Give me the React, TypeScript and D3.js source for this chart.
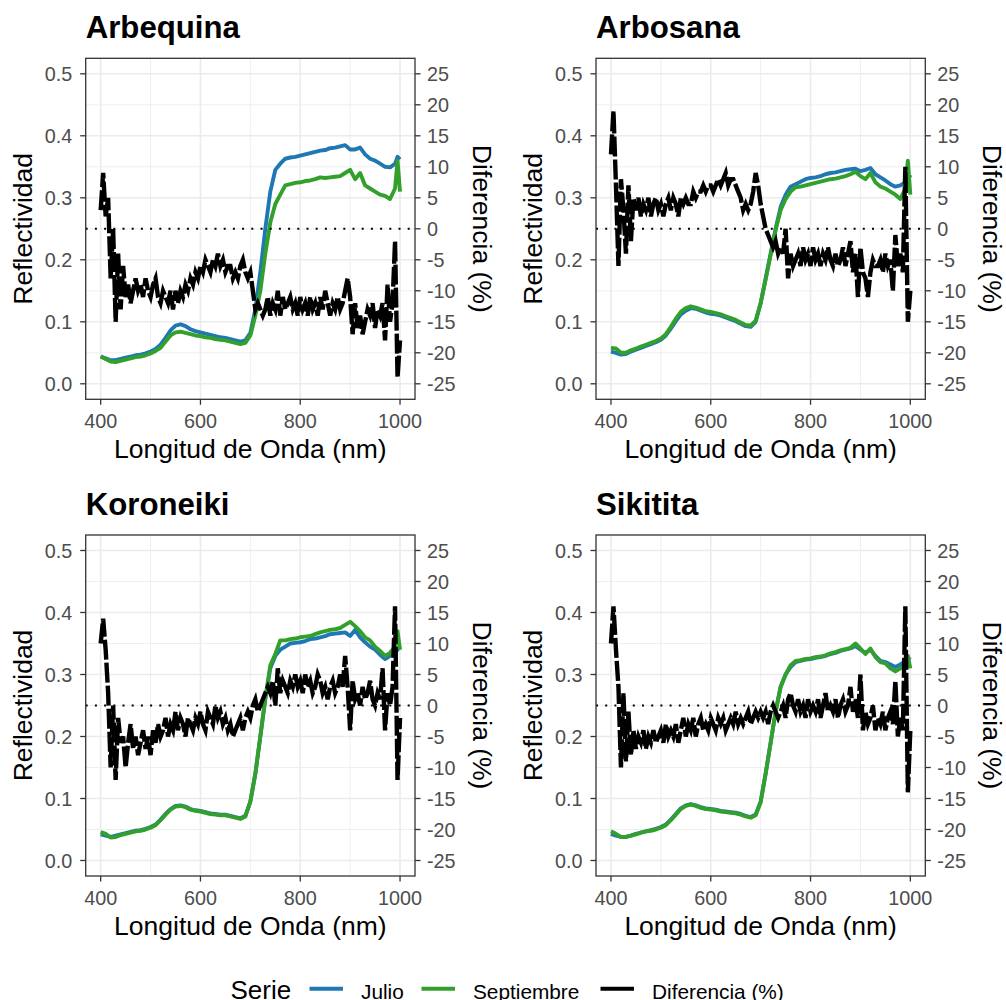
import React from 'react';
import * as d3 from 'd3';

// wavelength grids (nm)
const wlRefl = [...d3.range(400, 1000, 10), 995, 1000];
const wlDiff = d3.range(400, 1001, 5);

// reflectance, Julio / Septiembre
const arbequinaJulio = [
  0.044, 0.041, 0.038, 0.038, 0.040, 0.042, 0.044, 0.046, 0.047, 0.049,
  0.052, 0.056, 0.063, 0.074, 0.086, 0.094, 0.096, 0.093, 0.088, 0.085,
  0.083, 0.081, 0.079, 0.077, 0.075, 0.074, 0.072, 0.070, 0.068, 0.070,
  0.082, 0.120, 0.180, 0.250, 0.310, 0.345, 0.355, 0.363, 0.365, 0.366,
  0.368, 0.370, 0.372, 0.374, 0.376, 0.377, 0.380, 0.381, 0.383, 0.385,
  0.378, 0.378, 0.381, 0.370, 0.363, 0.360, 0.355, 0.350, 0.349, 0.355,
  0.366, 0.362,
];
const arbequinaSept = [
  0.044, 0.040, 0.036, 0.035, 0.037, 0.039, 0.041, 0.043, 0.044, 0.046,
  0.049, 0.053, 0.058, 0.068, 0.078, 0.083, 0.084, 0.082, 0.080, 0.078,
  0.077, 0.075, 0.074, 0.072, 0.071, 0.070, 0.068, 0.066, 0.064, 0.066,
  0.078, 0.110, 0.150, 0.210, 0.260, 0.290, 0.305, 0.320, 0.322, 0.324,
  0.325, 0.327, 0.328, 0.330, 0.333, 0.332, 0.333, 0.334, 0.335, 0.340,
  0.345, 0.330, 0.340, 0.320, 0.315, 0.310, 0.305, 0.303, 0.298, 0.315,
  0.360, 0.310,
];
const arbosanaJulio = [
  0.052, 0.050, 0.047, 0.048, 0.052, 0.055, 0.058, 0.061, 0.064, 0.067,
  0.071, 0.078, 0.089, 0.101, 0.112, 0.118, 0.122, 0.121, 0.118, 0.115,
  0.113, 0.112, 0.110, 0.107, 0.104, 0.101, 0.097, 0.093, 0.092, 0.100,
  0.130, 0.170, 0.210, 0.250, 0.285, 0.305, 0.318, 0.322, 0.326, 0.330,
  0.332, 0.333, 0.335, 0.338, 0.340, 0.341, 0.343, 0.345, 0.346, 0.347,
  0.343, 0.345, 0.348, 0.338, 0.333, 0.328, 0.322, 0.318, 0.320, 0.325,
  0.328, 0.337,
];
const arbosanaSept = [
  0.058, 0.057, 0.050, 0.050, 0.054, 0.057, 0.060, 0.063, 0.066, 0.069,
  0.073, 0.080, 0.092, 0.105, 0.116, 0.122, 0.125, 0.123, 0.120, 0.117,
  0.116, 0.114, 0.112, 0.109, 0.106, 0.103, 0.099, 0.095, 0.094, 0.102,
  0.130, 0.168, 0.208, 0.248, 0.280, 0.298, 0.310, 0.317, 0.318, 0.320,
  0.322, 0.324, 0.326, 0.328, 0.330, 0.331, 0.333, 0.335, 0.338, 0.342,
  0.335, 0.330, 0.340, 0.325, 0.318, 0.315, 0.310, 0.305, 0.298, 0.315,
  0.360, 0.305,
];
const koroneikiJulio = [
  0.042, 0.040, 0.038, 0.040, 0.042, 0.044, 0.046, 0.048, 0.049, 0.051,
  0.054, 0.058, 0.066, 0.075, 0.083, 0.088, 0.089, 0.087, 0.083, 0.081,
  0.080, 0.078, 0.076, 0.075, 0.074, 0.074, 0.072, 0.070, 0.068, 0.072,
  0.095, 0.140, 0.200, 0.260, 0.310, 0.330, 0.340, 0.345, 0.350, 0.351,
  0.352, 0.354, 0.357, 0.358, 0.360, 0.362, 0.365, 0.366, 0.367, 0.368,
  0.362, 0.372, 0.360, 0.352, 0.345, 0.340, 0.332, 0.325, 0.330, 0.335,
  0.340, 0.345,
];
const koroneikiSept = [
  0.046, 0.043, 0.037, 0.038, 0.041, 0.043, 0.045, 0.047, 0.048, 0.050,
  0.053, 0.057, 0.065, 0.074, 0.082, 0.087, 0.088, 0.086, 0.082, 0.080,
  0.079, 0.077, 0.075, 0.074, 0.073, 0.073, 0.071, 0.069, 0.067, 0.071,
  0.095, 0.140, 0.200, 0.262, 0.315, 0.333, 0.355, 0.355, 0.357, 0.358,
  0.360, 0.361, 0.362, 0.365, 0.368, 0.370, 0.372, 0.373, 0.375, 0.380,
  0.385, 0.378, 0.370, 0.360, 0.355, 0.345, 0.338, 0.330, 0.335, 0.345,
  0.370, 0.340,
];
const sikititaJulio = [
  0.043, 0.040, 0.038, 0.038, 0.040, 0.043, 0.045, 0.047, 0.049, 0.051,
  0.054, 0.058, 0.066, 0.075, 0.084, 0.089, 0.091, 0.089, 0.086, 0.084,
  0.083, 0.082, 0.080, 0.079, 0.078, 0.077, 0.075, 0.072, 0.070, 0.074,
  0.095, 0.140, 0.190, 0.240, 0.280, 0.300, 0.312, 0.320, 0.322, 0.324,
  0.325, 0.327, 0.328, 0.330, 0.333, 0.335, 0.338, 0.340, 0.342, 0.346,
  0.340, 0.335, 0.340, 0.330, 0.322, 0.320, 0.316, 0.312, 0.316, 0.322,
  0.325, 0.328,
];
const sikititaSept = [
  0.047, 0.043, 0.038, 0.038, 0.040, 0.042, 0.045, 0.047, 0.048, 0.050,
  0.053, 0.057, 0.065, 0.074, 0.083, 0.088, 0.090, 0.088, 0.085, 0.083,
  0.082, 0.081, 0.079, 0.078, 0.077, 0.076, 0.074, 0.071, 0.069, 0.073,
  0.094, 0.140, 0.190, 0.240, 0.280, 0.300, 0.315, 0.322, 0.323, 0.325,
  0.326, 0.328, 0.329, 0.331, 0.334, 0.336, 0.339, 0.341, 0.343, 0.350,
  0.342, 0.333, 0.342, 0.328, 0.320, 0.318, 0.310, 0.305, 0.310, 0.315,
  0.330, 0.310,
];

// Diferencia (%), every 5 nm
const arbequinaDiff = [
  3, 9, 2, 5, -8, 0, -15, -4, -13, -6,
  -11, -9, -12, -10, -8, -10, -9, -11, -8, -10,
  -11, -9, -8, -11, -12, -10, -11, -12, -10, -13,
  -10, -12, -10, -11, -9, -10, -8, -9, -7, -8,
  -6, -7, -5, -6, -7, -5, -6, -4, -6, -5,
  -7, -6, -6, -8, -7, -8, -6, -5, -7, -8,
  -7, -10, -13, -12, -13, -14, -13, -11, -14, -12,
  -13, -10, -14, -11, -13, -12, -11, -13, -12, -14,
  -11, -13, -12, -14, -11, -13, -12, -14, -11, -13,
  -10, -12, -14, -12, -13, -11, -13, -12, -10, -8,
  -11, -17, -12, -16, -14, -17, -15, -13, -14, -12,
  -16, -13, -14, -12, -18, -9, -15, -12, -2, -24,
  -18,
];
const arbosanaDiff = [
  12, 19, 7, -6, 8, 3, -4, 7, -2, 5,
  3, 5, 2, 4, 3, 5, 2, 4, 5, 3,
  4, 2, 4, 5, 3, 5, 4, 2, 5, 4,
  5, 4, 4, 6, 5, 6, 6, 7, 6, 7,
  7, 6, 7, 8, 7, 8, 9, 7, 8, 8,
  7, 6, 5, 3, 4, 3, 4, 6, 9, 7,
  4, 2, 0, -1, -2, -3, -2, -4, -3, -4,
  0, -8, -4, -6, -5, -4, -6, -3, -5, -4,
  -6, -3, -5, -4, -6, -4, -5, -3, -5, -6,
  -4, -6, -5, -3, -6, -4, -2, -7, -4, -11,
  -3, -7, -8, -11, -7, -5, -6, -6, -5, -7,
  -4, -6, -5, -10, -1, -6, -4, -7, 10, -15,
  -10,
];
const koroneikiDiff = [
  10, 14, 9, 2, -10, 0, -12, -2, -6, -5,
  -10, -6, -3, -7, -5, -8, -6, -4, -7, -5,
  -8, -4, -6, -3, -5, -4, -2, -5, -3, -4,
  -1, -4, -2, -3, -5, -2, -3, -4, -2, -3,
  -1, -3, -4, -1, -2, -3, 0, -2, -1, -3,
  -2, -4, -3, -5, -4, -3, -2, -4, -2, -1,
  -2, 0, 1, -1, 0, 1, 2, 3, 2, 4,
  0, 6, 2, 4, 3, 2, 4, 3, 5, 3,
  4, 2, 5, 3, 4, 2, 3, 5, 4, 2,
  3, 1, 3, 4, 2, 3, 5, 3, 8, 3,
  -4, 4, 1, 2, 0, 3, 1, 2, 4, 1,
  0, 2, 1, 6, -4, 2, 0, 3, 16, -12,
  -2,
];
const sikititaDiff = [
  10, 16, 9, 3, -10, 2, -9, -1, -8, -4,
  -7, -5, -6, -4, -7, -5, -6, -4, -6, -5,
  -4, -6, -3, -5, -4, -5, -3, -6, -4, -2,
  -5, -3, -4, -2, -5, -3, -2, -4, -3, -4,
  -2, -3, -4, -2, -3, -2, -4, -3, -2, -3,
  -1, -3, -2, -3, -2, -1, -3, -2, -1, -2,
  -1, -2, -1, -3, -1, 0, -1, -2, -1, 0,
  -2, 1, 2, 0, -1, 1, -1, 0, -2, 1,
  -1, 0, -1, 1, -2, 0, 2, -1, 0, -1,
  1, -2, 0, 1, -1, 0, 3, -1, 1, -2,
  5, -4, -1, -3, -2, 0, -4, -2, -3, -1,
  -4, -2, -1, -3, 4, -5, -2, -4, 16, -14,
  -4,
];

const panels = [
  { title: 'Arbequina', julio: arbequinaJulio, sept: arbequinaSept, diff: arbequinaDiff },
  { title: 'Arbosana', julio: arbosanaJulio, sept: arbosanaSept, diff: arbosanaDiff },
  { title: 'Koroneiki', julio: koroneikiJulio, sept: koroneikiSept, diff: koroneikiDiff },
  { title: 'Sikitita', julio: sikititaJulio, sept: sikititaSept, diff: sikititaDiff },
];

const reflTicks = [0, 0.1, 0.2, 0.3, 0.4, 0.5];
const reflMinor = [0.05, 0.15, 0.25, 0.35, 0.45];
const diffTicks = [-25, -20, -15, -10, -5, 0, 5, 10, 15, 20, 25];
const wlTicks = [400, 600, 800, 1000];
const wlMinor = [500, 700, 900];

const legendItems = [
  { label: 'Julio', color: '#1F78B4', x: 309.5 },
  { label: 'Septiembre', color: '#33A02C', x: 421.5 },
  { label: 'Diferencia (%)', color: '#000000', x: 600.5 },
];

const FONT = '"Liberation Sans", Arial, Helvetica, sans-serif';
const origins = [[85.7, 58.3], [596, 58.3], [85.7, 535], [596, 535]];
const plotW = 329.3;
const plotH = 341;

function Panel({ p, ox, oy, idx }) {
  const x = d3.scaleLinear().domain([370, 1030]).range([ox, ox + plotW]);
  const y = d3.scaleLinear().domain([-0.025, 0.525]).range([oy + plotH, oy]);
  // secondary axis: diferencia = (refl - 0.25) * 100
  const yd = (d) => y(0.25 + d / 100);

  const reflLine = d3.line().x((d) => x(d[0])).y((d) => y(d[1]));
  const diffLine = d3.line().x((d) => x(d[0])).y((d) => yd(d[1]));
  const julioPts = wlRefl.map((w, i) => [w, p.julio[i]]);
  const septPts = wlRefl.map((w, i) => [w, p.sept[i]]);
  const diffPts = wlDiff.map((w, i) => [w, p.diff[i]]);

  const left = ox, right = ox + plotW, top = oy, bottom = oy + plotH;
  const cx = ox + plotW / 2, cy = oy + plotH / 2;
  const clipId = `clip${idx}`;

  return (
    <g>
      <clipPath id={clipId}>
        <rect x={left} y={top} width={plotW} height={plotH} />
      </clipPath>
      <rect x={left} y={top} width={plotW} height={plotH} fill="#fff" />
      {/* grid */}
      {wlMinor.map((t) => (
        <line key={'xm' + t} x1={x(t)} x2={x(t)} y1={top} y2={bottom} stroke="#EBEBEB" strokeWidth={0.8} />
      ))}
      {reflMinor.map((t) => (
        <line key={'ym' + t} x1={left} x2={right} y1={y(t)} y2={y(t)} stroke="#EBEBEB" strokeWidth={0.8} />
      ))}
      {wlTicks.map((t) => (
        <line key={'xg' + t} x1={x(t)} x2={x(t)} y1={top} y2={bottom} stroke="#EBEBEB" strokeWidth={1.6} />
      ))}
      {reflTicks.map((t) => (
        <line key={'yg' + t} x1={left} x2={right} y1={y(t)} y2={y(t)} stroke="#EBEBEB" strokeWidth={1.6} />
      ))}

      <g clipPath={`url(#${clipId})`}>
        <path d={reflLine(julioPts)} fill="none" stroke="#1F78B4" strokeWidth={3.9} strokeLinejoin="round" />
        <path d={reflLine(septPts)} fill="none" stroke="#33A02C" strokeWidth={3.9} strokeLinejoin="round" />
        <path d={diffLine(diffPts)} fill="none" stroke="#000" strokeWidth={4.4} strokeDasharray="20 3" />
        <line x1={left} x2={right} y1={yd(0)} y2={yd(0)} stroke="#000" strokeWidth={2} strokeDasharray="2 7.2" />
      </g>

      <rect x={left} y={top} width={plotW} height={plotH} fill="none" stroke="#333333" strokeWidth={1.3} />

      {/* left axis */}
      {reflTicks.map((t) => (
        <g key={'yl' + t}>
          <line x1={left - 5.5} x2={left} y1={y(t)} y2={y(t)} stroke="#333333" strokeWidth={1.3} />
          <text x={left - 13.5} y={y(t)} dy="0.36em" textAnchor="end" fontSize={19.8} fill="#4D4D4D">
            {d3.format('.1f')(t)}
          </text>
        </g>
      ))}
      {/* right axis */}
      {diffTicks.map((t) => (
        <g key={'yr' + t}>
          <line x1={right} x2={right + 5.5} y1={yd(t)} y2={yd(t)} stroke="#333333" strokeWidth={1.3} />
          <text x={right + 12} y={yd(t)} dy="0.36em" textAnchor="start" fontSize={19.8} fill="#4D4D4D">
            {t}
          </text>
        </g>
      ))}
      {/* bottom axis */}
      {wlTicks.map((t) => (
        <g key={'xb' + t}>
          <line x1={x(t)} x2={x(t)} y1={bottom} y2={bottom + 5.5} stroke="#333333" strokeWidth={1.3} />
          <text x={x(t)} y={bottom + 28.5} textAnchor="middle" fontSize={19.8} fill="#4D4D4D">
            {t}
          </text>
        </g>
      ))}

      <text x={cx} y={bottom + 59} textAnchor="middle" fontSize={26.5} fill="#000">
        Longitud de Onda (nm)
      </text>
      <text transform={`translate(${left - 54},${cy}) rotate(-90)`} textAnchor="middle" fontSize={26.5} fill="#000">
        Reflectividad
      </text>
      <text transform={`translate(${right + 57.5},${cy}) rotate(90)`} textAnchor="middle" fontSize={26.5} fill="#000">
        Diferencia (%)
      </text>
      <text x={left} y={top - 20.5} fontSize={31.2} fontWeight="bold" fill="#000">
        {p.title}
      </text>
    </g>
  );
}

export default function App() {
  return (
    <svg
      width={1006}
      height={1000}
      style={{ position: 'absolute', left: 0, top: 0, display: 'block', background: '#fff' }}
      fontFamily={FONT}
    >
      <rect width={1006} height={1000} fill="#fff" />
      {panels.map((p, i) => (
        <Panel key={p.title} p={p} ox={origins[i][0]} oy={origins[i][1]} idx={i} />
      ))}
      {/* legend */}
      <text x={230.5} y={998.5} fontSize={26} fill="#000">Serie</text>
      {legendItems.map((it) => (
        <g key={it.label}>
          <line x1={it.x} x2={it.x + 33.5} y1={988.7} y2={988.7} stroke={it.color} strokeWidth={4} />
          <text x={it.x + 51.5} y={998.5} fontSize={20.8} fill="#000">{it.label}</text>
        </g>
      ))}
    </svg>
  );
}
